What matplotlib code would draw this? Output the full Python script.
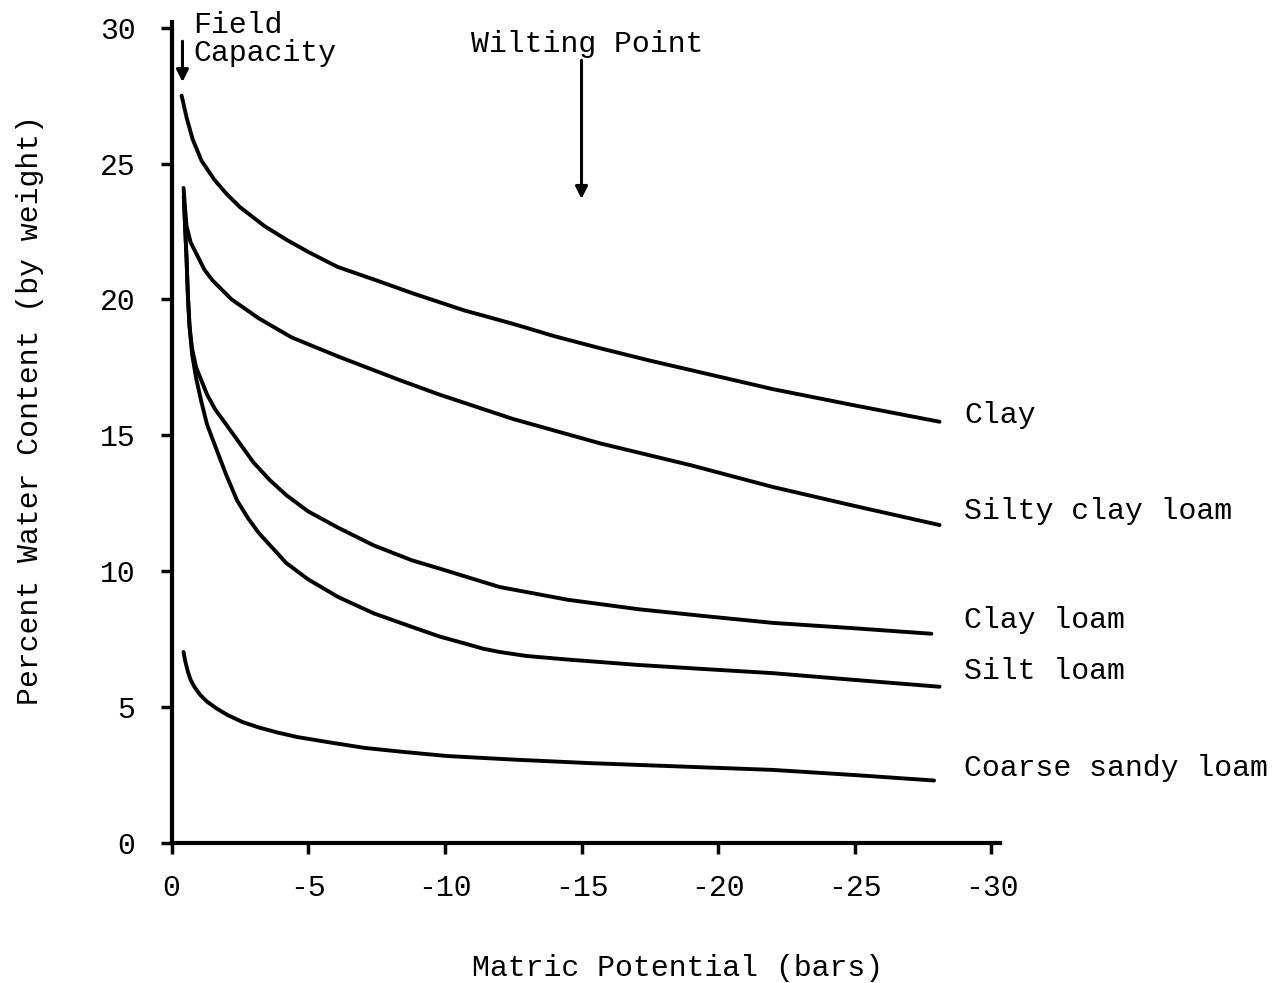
import matplotlib
matplotlib.use("Agg")
import matplotlib.pyplot as plt

plt.rcParams['font.family'] = ['Liberation Mono', 'DejaVu Sans Mono']
FS = 21.5

# matric potential (bars) vs percent water content, read per soil
clay_x = [-0.37, -0.55, -0.77, -1.1, -1.57, -2.0, -2.5, -3.4, -4.2, -5.0, -6.07, -7.5, -8.9, -10.7, -12.5,
          -14.0, -15.7, -17.5, -19.0, -20.5, -22.0, -25.0, -28.1]
clay_y = [27.5, 26.7, 25.9, 25.1, 24.4, 23.9, 23.4, 22.7, 22.2, 21.75, 21.2, 20.7, 20.2, 19.6, 19.1,
          18.65, 18.2, 17.75, 17.4, 17.05, 16.7, 16.1, 15.5]

scl_x = [-0.44, -0.5, -0.55, -0.7, -0.95, -1.2, -1.5, -2.2, -3.2, -4.4, -6.1, -8.3, -9.8, -12.5,
         -15.7, -19.0, -22.0, -25.0, -28.1]
scl_y = [24.1, 23.3, 22.7, 22.1, 21.6, 21.1, 20.7, 20.0, 19.3, 18.6, 17.9, 17.05, 16.5, 15.6,
         14.7, 13.9, 13.1, 12.4, 11.7]

cl_x = [-0.45, -0.5, -0.55, -0.6, -0.66, -0.75, -0.9, -1.1, -1.3, -1.6, -2.0, -2.5, -3.0, -3.6, -4.2,
        -5.0, -6.1, -7.4, -8.8, -9.8, -12.0, -14.5, -17.1, -19.5, -22.0, -25.0, -27.8]
cl_y = [23.8, 22.6, 21.5, 20.1, 19.0, 18.2, 17.5, 17.0, 16.5, 15.95, 15.4, 14.7, 14.0, 13.35, 12.8,
        12.2, 11.6, 10.95, 10.4, 10.1, 9.42, 8.95, 8.6, 8.35, 8.1, 7.9, 7.7]

sil_x = [-0.45, -0.5, -0.55, -0.6, -0.66, -0.75, -0.9, -1.1, -1.3, -1.6, -2.0, -2.4, -2.8, -3.2, -3.7, -4.2,
         -5.0, -6.1, -7.4, -8.8, -9.8, -10.7, -11.4, -12.0, -13.0, -14.5, -17.1, -19.5, -22.0, -25.0, -28.1]
sil_y = [23.8, 22.6, 21.5, 20.1, 19.0, 18.0, 17.1, 16.2, 15.4, 14.6, 13.55, 12.6, 11.95, 11.4, 10.85, 10.3,
         9.7, 9.05, 8.45, 7.95, 7.6, 7.35, 7.15, 7.03, 6.88, 6.75, 6.55, 6.4, 6.25, 6.0, 5.75]

csl_x = [-0.44, -0.5, -0.6, -0.7, -0.84, -1.05, -1.3, -1.65, -2.05, -2.6, -3.2, -3.9, -4.6, -5.8, -7.06,
         -8.5, -10.1, -12.5, -15.3, -18.5, -22.0, -25.0, -27.9]
csl_y = [7.03, 6.7, 6.3, 6.0, 5.74, 5.45, 5.2, 4.95, 4.71, 4.45, 4.25, 4.06, 3.9, 3.7, 3.5,
         3.35, 3.2, 3.07, 2.94, 2.82, 2.69, 2.5, 2.3]

soil_names = ["Clay", "Silty clay loam", "Clay loam", "Silt loam", "Coarse sandy loam"]
soil_x = [clay_x, scl_x, cl_x, sil_x, csl_x]
soil_y = [clay_y, scl_y, cl_y, sil_y, csl_y]
name_y = [15.75, 12.2, 8.2, 6.33, 2.76]

x_ticks = [0, -5, -10, -15, -20, -25, -30]
y_ticks = [0, 5, 10, 15, 20, 25, 30]

fig = plt.figure(figsize=(12.8, 9.83), dpi=100)
ax = fig.add_axes([0.134, 0.1424, 0.647, 0.835])

for xs, ys in zip(soil_x, soil_y):
    ax.plot(xs, ys, color='black', lw=2.8, solid_capstyle='round', solid_joinstyle='round')

for name, ly in zip(soil_names, name_y):
    ax.text(-29.0, ly, name, fontsize=FS, ha='left', va='center', clip_on=False)

ax.set_xlim(0, -30.3)
ax.set_ylim(0, 30.2)
ax.set_xticks(x_ticks)
ax.set_xticklabels([str(t) for t in x_ticks])
ax.set_yticks(y_ticks)
ax.tick_params(axis='both', direction='out', length=8, width=2.5, labelsize=FS)
ax.tick_params(axis='y', pad=18)
ax.tick_params(axis='x', pad=14)

for side in ['top', 'right']:
    ax.spines[side].set_visible(False)
for side in ['left', 'bottom']:
    ax.spines[side].set_linewidth(3)

# field capacity and wilting point markers
ax.annotate("", xy=(-0.4, 28.0), xytext=(-0.4, 29.5),
            arrowprops=dict(arrowstyle='-|>', color='black', lw=2.2,
                            mutation_scale=18, shrinkA=0, shrinkB=0))
ax.text(-0.8, 30.6, "Field\nCapacity", fontsize=FS, ha='left', va='top',
        linespacing=1.0, clip_on=False)

ax.annotate("", xy=(-15.0, 23.7), xytext=(-15.0, 28.8),
            arrowprops=dict(arrowstyle='-|>', color='black', lw=2.2,
                            mutation_scale=18, shrinkA=0, shrinkB=0))
ax.text(-15.2, 29.4, "Wilting Point", fontsize=FS, ha='center', va='center')

fig.text(30 / 1280, 1 - 410 / 983, "Percent Water Content (by weight)",
         rotation=90, fontsize=FS, ha='center', va='center')
fig.text(678 / 1280, 1 - 968 / 983, "Matric Potential (bars)",
         fontsize=FS, ha='center', va='center')

fig.savefig("out.png", dpi=100)
